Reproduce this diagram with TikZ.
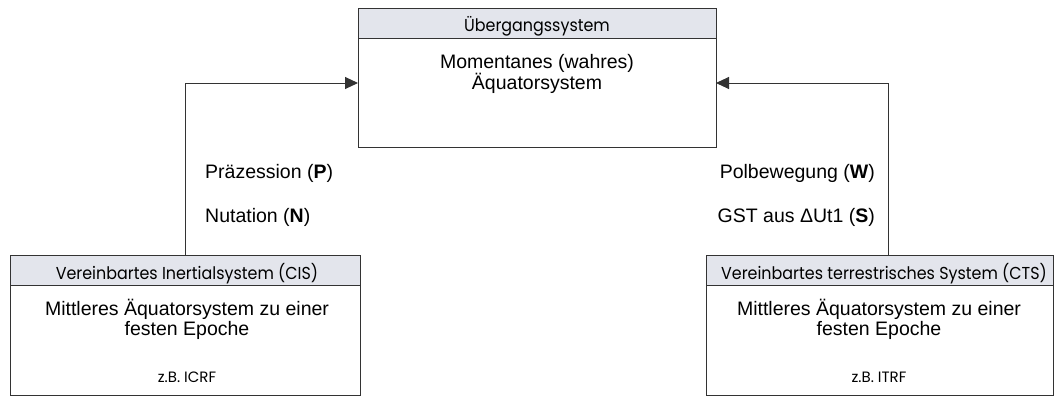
\documentclass[tikz,border=0pt]{standalone}
\usepackage{fontspec}
\setmainfont{Liberation Sans}
\newfontfamily\hdrfont[FakeStretch=0.92]{Poppins}
\newfontfamily\notefont{Poppins}
\usetikzlibrary{arrows.meta,calc}
\definecolor{hdrfill}{HTML}{E3E5EC}
\definecolor{linegray}{HTML}{333333}
\begin{document}
\begin{tikzpicture}[x=1pt,y=-1pt,
  frame/.style={draw=linegray,line width=1pt,anchor=north west,inner sep=0pt},
  header/.style={draw=linegray,fill=hdrfill,line width=1pt,anchor=north west,inner sep=0pt},
  hdrtext/.style={font=\hdrfont\fontsize{17.3}{20}\selectfont,inner sep=0pt,anchor=base},
  bodytext/.style={font=\fontsize{19.5}{21}\selectfont,inner sep=0pt,anchor=base,align=center},
  small/.style={font=\notefont\fontsize{15}{17}\selectfont,inner sep=0pt,anchor=base},
  lbl/.style={font=\fontsize{19.5}{21}\selectfont,inner sep=0pt,anchor=base west},
  lblr/.style={font=\fontsize{19.5}{21}\selectfont,inner sep=0pt,anchor=base east},
  arr/.style={draw=linegray,line width=1pt,-{Triangle[length=13pt,width=12pt]}}]
\useasboundingbox (0,0) rectangle (1056,396);

% transition system (top)
\node[frame,minimum width=358pt,minimum height=139pt] (top) at (358,8) {};
\node[header,minimum width=358pt,minimum height=30pt] (tophdr) at (358,8) {};
\node[hdrtext] (toph) at (537,32) {Übergangssystem};
\node[bodytext] (topl1) at (537,68) {Momentanes (wahres)};
\node[bodytext] (topl2) at (537,89) {Äquatorsystem};

% conventional inertial system (bottom left)
\node[frame,minimum width=350pt,minimum height=140pt] (cis) at (10,255) {};
\node[header,minimum width=350pt,minimum height=30pt] (cishdr) at (10,255) {};
\node[hdrtext] (cish) at (187,279) {Vereinbartes Inertialsystem (CIS)};
\node[bodytext] (cisl1) at (187,315) {Mittleres Äquatorsystem zu einer};
\node[bodytext] (cisl2) at (187,335) {festen Epoche};
\node[small] (cisex) at (187,382) {z.B. ICRF};

% conventional terrestrial system (bottom right)
\node[frame,minimum width=347pt,minimum height=140pt] (cts) at (706,255) {};
\node[header,minimum width=347pt,minimum height=30pt] (ctshdr) at (706,255) {};
\node[hdrtext] (ctsh) at (884,279) {Vereinbartes terrestrisches System (CTS)};
\node[bodytext] (ctsl1) at (879,315) {Mittleres Äquatorsystem zu einer};
\node[bodytext] (ctsl2) at (879,335) {festen Epoche};
\node[small] (ctsex) at (879,382) {z.B. ITRF};

% connectors
\coordinate (lin) at (358,83);
\coordinate (rin) at (716,83);
\coordinate (rout) at (888,255);
\draw[arr] (cis.north) |- (lin);
\draw[arr] (rout) |- (rin);

% transformation labels
\node[lbl] (prec) at (205,178) {Präzession (\textbf{P})};
\node[lbl] (nut) at (205,222) {Nutation (\textbf{N})};
\node[lblr] (pol) at (875,178) {Polbewegung (\textbf{W})};
\node[lblr] (gst) at (875,222) {GST aus ΔUt1 (\textbf{S})};
\end{tikzpicture}
\end{document}
